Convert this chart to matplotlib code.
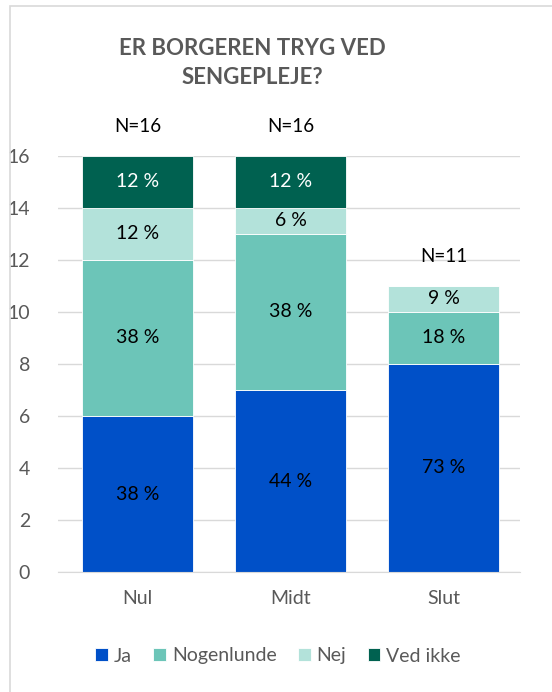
import matplotlib.pyplot as plt
from matplotlib.patches import Rectangle
import numpy as np

plt.rcParams['font.family'] = ['Lato', 'DejaVu Sans']

categories = ['Nul', 'Midt', 'Slut']
series = ['Ja', 'Nogenlunde', 'Nej', 'Ved ikke']
ja = [6, 7, 8]
nogenlunde = [6, 6, 2]
nej = [2, 1, 1]
ved_ikke = [2, 2, 0]
pct_labels = [
    ['38 %', '44 %', '73 %'],
    ['38 %', '38 %', '18 %'],
    ['12 %', '6 %', '9 %'],
    ['12 %', '12 %', ''],
]
n_labels = ['N=16', 'N=16', 'N=11']
yticks = [0, 2, 4, 6, 8, 10, 12, 14, 16]

colors = ['#0050C8', '#6CC5B8', '#B3E2DA', '#006150']
txtcol = ['black', 'black', 'black', 'white']

fig = plt.figure(figsize=(5.52, 6.92), dpi=100)
ax = fig.add_axes([0.105, 0.1734, 0.837, 0.6012])

# chart border (only left/top visible in the crop)
fig.patches.append(Rectangle((10/552, -0.1), 1.2, 1 - 6/692 + 0.1,
                             transform=fig.transFigure, fill=False,
                             edgecolor='#D9D9D9', lw=1.2))

x = np.arange(len(categories))
data = [ja, nogenlunde, nej, ved_ikke]
bottom = np.zeros(len(categories))
for i, vals in enumerate(data):
    vals = np.array(vals, dtype=float)
    ax.bar(x, vals, 0.72, bottom=bottom, color=colors[i], label=series[i],
           edgecolor='white', linewidth=0.6, zorder=3)
    for j in range(len(categories)):
        if vals[j] > 0:
            ax.text(x[j], bottom[j] + vals[j]/2, pct_labels[i][j], ha='center',
                    va='center', fontsize=14, color=txtcol[i], zorder=4)
    bottom += vals

for j in range(len(categories)):
    ax.annotate(n_labels[j], (x[j], bottom[j]), xytext=(0, 21),
                textcoords='offset points', ha='center', va='center',
                fontsize=13.5, color='black')

ax.set_xlim(-0.52, 2.5)
ax.set_ylim(0, 16)
ax.set_yticks(yticks)
ax.set_xticks(x)
ax.set_xticklabels(categories)
ax.tick_params(axis='both', length=0, labelsize=14, colors='#595959')
ax.tick_params(axis='x', pad=13)
ax.tick_params(axis='y', pad=20)
ax.yaxis.grid(True, color='#D9D9D9', lw=1, zorder=0)
for s in ['top', 'right', 'left']:
    ax.spines[s].set_visible(False)
ax.spines['bottom'].set_color('#D9D9D9')
ax.spines['bottom'].set_zorder(5)

fig.text(252/552, 1 - 63/692, 'ER BORGEREN TRYG VED\nSENGEPLEJE?', ha='center',
         va='center', fontsize=16, fontweight='bold', color='#595959',
         linespacing=1.45)

fig.legend(loc='center', bbox_to_anchor=(278/552, 1 - 656/692), ncol=4,
           frameon=False, fontsize=14, handlelength=0.65, handleheight=0.65,
           handletextpad=0.3, columnspacing=1.1, labelcolor='#595959')

fig.savefig('out.png', dpi=100)
